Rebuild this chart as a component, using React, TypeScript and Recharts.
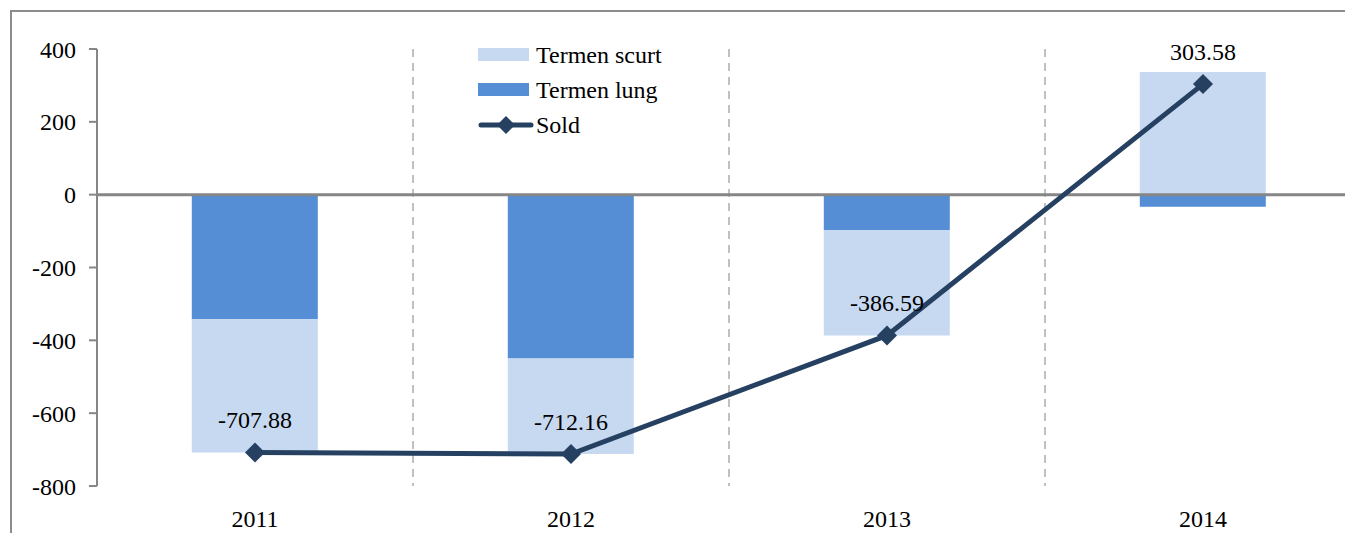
import React from "react";
import {
  ComposedChart,
  Bar,
  Line,
  XAxis,
  YAxis,
  CartesianGrid,
  ReferenceLine,
  LabelList,
} from "recharts";

const YEARS = ["2011", "2012", "2013", "2014"];
const TERMEN_LUNG = [-342, -450, -97, -33];
const TERMEN_SCURT = [-365.88, -262.16, -289.59, 336.58];
const SOLD = [-707.88, -712.16, -386.59, 303.58];
const Y_TICKS = [-800, -600, -400, -200, 0, 200, 400];

const COLORS = {
  scurt: "#C6D9F1",
  lung: "#558ED5",
  sold: "#254061",
  axis: "#868686",
  grid: "#C0C0C0",
};

const FONT = '"Liberation Serif", "Times New Roman", serif';
const FS = 24;

const data = YEARS.map((year, i) => ({
  year,
  lung: TERMEN_LUNG[i],
  scurt: TERMEN_SCURT[i],
  sold: SOLD[i],
}));

// eslint-disable-next-line @typescript-eslint/no-explicit-any
function Diamond({ cx, cy }: any) {
  if (cx == null || cy == null) return null;
  const r = 10;
  return (
    <path
      d={`M${cx},${cy - r} L${cx + r},${cy} L${cx},${cy + r} L${cx - r},${cy} Z`}
      fill={COLORS.sold}
    />
  );
}

function ChartLegend() {
  const row = { display: "flex", alignItems: "center", height: 35 } as const;
  const text = { fontFamily: FONT, fontSize: FS, color: "#000", marginLeft: 7, lineHeight: 1 };
  return (
    <div style={{ position: "absolute", left: 478, top: 37 }}>
      <div style={row}>
        <div style={{ width: 51, height: 13, background: COLORS.scurt }} />
        <span style={text}>Termen scurt</span>
      </div>
      <div style={row}>
        <div style={{ width: 51, height: 13, background: COLORS.lung }} />
        <span style={text}>Termen lung</span>
      </div>
      <div style={row}>
        <svg width={56} height={24}>
          <line x1={3} y1={12} x2={53} y2={12} stroke={COLORS.sold} strokeWidth={5} strokeLinecap="round" />
          <path d="M28,3 L37,12 L28,21 L19,12 Z" fill={COLORS.sold} />
        </svg>
        <span style={{ ...text, marginLeft: 2 }}>Sold</span>
      </div>
    </div>
  );
}

export default function App() {
  return (
    <div
      style={{
        margin: -8,
        position: "relative",
        width: 1353,
        height: 541,
        overflow: "hidden",
        background: "#fff",
      }}
    >
      <div
        style={{
          position: "absolute",
          left: 10,
          top: 10,
          width: 2000,
          height: 2000,
          borderLeft: "2px solid #8C8C8C",
          borderTop: "2px solid #8C8C8C",
        }}
      />
      <div style={{ position: "absolute", left: 0, top: 0 }}>
        <ComposedChart
          width={1361}
          height={541}
          data={data}
          stackOffset="sign"
          barCategoryGap="30%"
          margin={{ top: 49, right: 0, bottom: 0, left: 0 }}
        >
          <CartesianGrid
            horizontal={false}
            stroke={COLORS.grid}
            strokeWidth={2}
            strokeDasharray="8 6"
            // eslint-disable-next-line @typescript-eslint/no-explicit-any
            verticalCoordinatesGenerator={({ offset }: any) =>
              YEARS.slice(1).map((_, i) => offset.left + ((i + 1) * offset.width) / YEARS.length)
            }
          />
          <XAxis
            dataKey="year"
            axisLine={false}
            tickLine={false}
            tickMargin={18}
            tick={{ fontFamily: FONT, fontSize: FS, fill: "#000" }}
            height={55}
          />
          <YAxis
            width={97}
            domain={[-800, 400]}
            ticks={Y_TICKS}
            interval={0}
            axisLine={{ stroke: COLORS.axis, strokeWidth: 2 }}
            tickLine={{ stroke: COLORS.axis, strokeWidth: 2 }}
            tickSize={8}
            tickMargin={13}
            tick={{ fontFamily: FONT, fontSize: FS, fill: "#000" }}
          />
          <Bar dataKey="lung" name="Termen lung" stackId="a" fill={COLORS.lung} isAnimationActive={false} />
          <Bar dataKey="scurt" name="Termen scurt" stackId="a" fill={COLORS.scurt} isAnimationActive={false} />
          <ReferenceLine y={0} stroke={COLORS.axis} strokeWidth={3} />
          <Line
            dataKey="sold"
            name="Sold"
            stroke={COLORS.sold}
            strokeWidth={5}
            dot={<Diamond />}
            activeDot={false}
            isAnimationActive={false}
          >
            <LabelList
              dataKey="sold"
              position="top"
              offset={24}
              style={{ fontFamily: FONT, fontSize: FS, fill: "#000" }}
              formatter={(v: number) => v.toFixed(2)}
            />
          </Line>
        </ComposedChart>
      </div>
      <ChartLegend />
    </div>
  );
}
